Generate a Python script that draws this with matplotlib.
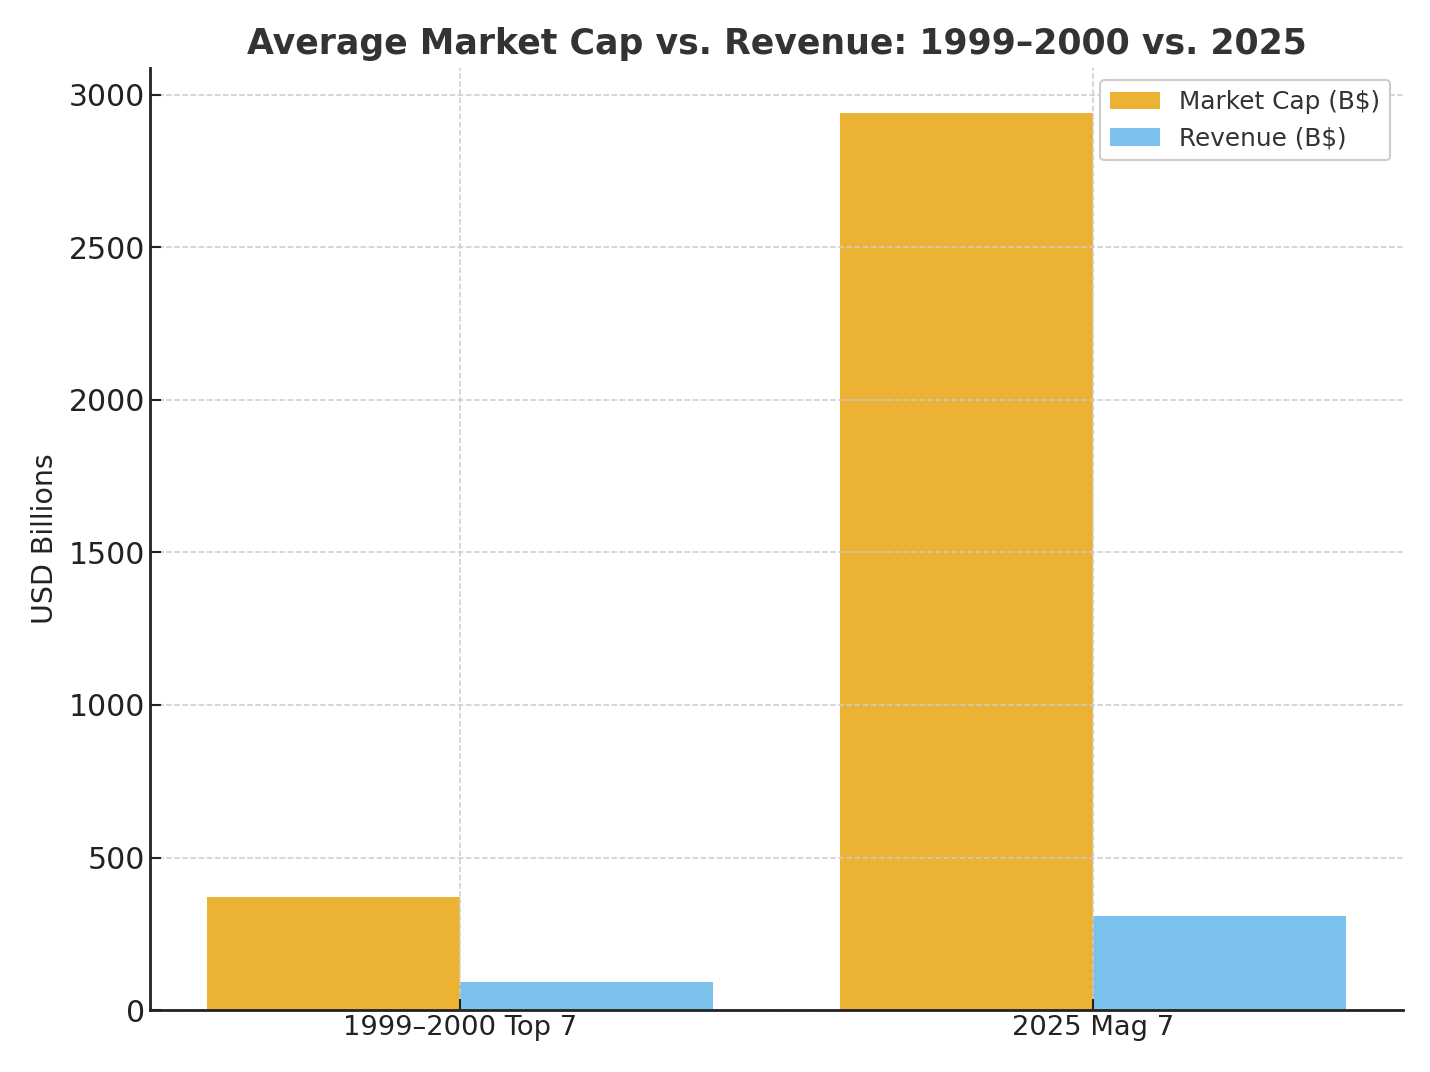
import matplotlib
matplotlib.use("Agg")
import matplotlib.pyplot as plt
import numpy as np

categories = ["1999\u20132000 Top 7", "2025 Mag 7"]
market_cap = [370, 2941]
revenue = [92, 308]
series_labels = ["Market Cap (B$)", "Revenue (B$)"]
title = "Average Market Cap vs. Revenue: 1999\u20132000 vs. 2025"
ylabel = "USD Billions"

plt.rcParams['font.family'] = ['DejaVu Sans']
fig = plt.figure(figsize=(14.3, 10.72), dpi=100)
ax = fig.add_axes([0.105, 0.0578, 0.876, 0.8788])

x = np.arange(len(categories))
w = 0.4
ax.bar(x - w/2, market_cap, w, color="#EBB234", label=series_labels[0], zorder=1)
ax.bar(x + w/2, revenue, w, color="#7AC1EC", label=series_labels[1], zorder=1)

ax.set_xticks(x)
ax.set_xticklabels(categories, fontsize=19.7, color="#222222")
ax.set_yticks([0, 500, 1000, 1500, 2000, 2500, 3000])
ax.tick_params(axis='y', labelsize=21.5, labelcolor="#222222")
ax.tick_params(direction='in', length=8, width=1.5, color="#222222")
ax.set_ylabel(ylabel, fontsize=20.5, color="#222222", labelpad=7)
ax.set_title(title, fontsize=25.0, fontweight='bold', color="#333333", pad=10)

ax.grid(True, linestyle='--', color='#cccccc', linewidth=1.1, zorder=3)
ax.set_axisbelow(False)
for s in ['top', 'right']:
    ax.spines[s].set_visible(False)
for s in ['left', 'bottom']:
    ax.spines[s].set_linewidth(2)
    ax.spines[s].set_color('#222222')
    ax.spines[s].set_zorder(4)

leg = ax.legend(loc='upper right', fontsize=17.8, frameon=True, fancybox=True,
                edgecolor='#cccccc', framealpha=1.0)
for t in leg.get_texts():
    t.set_color('#333333')
leg.get_frame().set_linewidth(1.5)

fig.savefig("out.png", dpi=100)
